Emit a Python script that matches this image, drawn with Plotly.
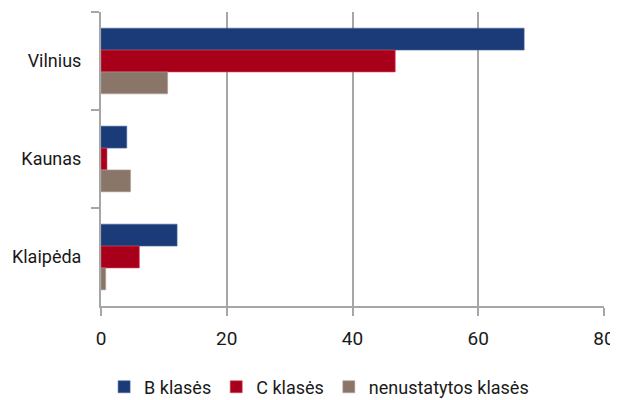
import plotly.graph_objects as go

cities = ["Vilnius", "Kaunas", "Klaipėda"]
series_names = ["B klasės", "C klasės", "nenustatytos klasės"]
b_vals = [67.3, 4.1, 12.1]
c_vals = [46.8, 0.95, 6.1]
n_vals = [10.6, 4.7, 0.75]
x_ticks = [0, 20, 40, 60, 80]

colors = ["#1a3b77", "#a8001b", "#8a7669"]
edges = ["#4a6aa0", "#d04a5a", "#b0a098"]
FONT = "Roboto, sans-serif"

fig = go.Figure()
for name, vals, col, ed in zip(series_names, [b_vals, c_vals, n_vals], colors, edges):
    fig.add_trace(go.Bar(
        y=cities, x=vals, name=name, orientation="h",
        marker=dict(color=col, line=dict(color=ed, width=0.6)),
    ))

# The page body has an 8px margin, so the figure is 8px smaller than the window.
fig.update_layout(
    width=610, height=392,
    margin=dict(l=93, r=14, t=4, b=94),
    barmode="group", bargap=0.33, bargroupgap=0,
    plot_bgcolor="white", paper_bgcolor="white",
    font=dict(family=FONT, size=18, color="#1a1a1a"),
    showlegend=True,
    legend=dict(orientation="h", xref="container", yref="container",
                x=0.51, xanchor="center", y=0.033, yanchor="middle",
                font=dict(size=18, family=FONT), itemwidth=30, traceorder="normal"),
    xaxis=dict(range=[0, 80], tickvals=x_ticks, showgrid=True, gridcolor="#a6a6a6", gridwidth=2,
               showline=True, linecolor="#a6a6a6", linewidth=2, automargin=False,
               ticks="outside", ticklen=8, tickcolor="#a6a6a6", tickwidth=2,
               zeroline=False, tickfont=dict(size=19, family=FONT), ticklabelstandoff=6),
    yaxis=dict(autorange="reversed", showgrid=False, showline=True, linecolor="#a6a6a6", linewidth=2,
               ticks="outside", tickson="boundaries", ticklen=8, tickcolor="#a6a6a6", tickwidth=2,
               automargin=False,
               tickfont=dict(size=18, family=FONT), ticklabelstandoff=14),
)

fig.write_html("out.html")
